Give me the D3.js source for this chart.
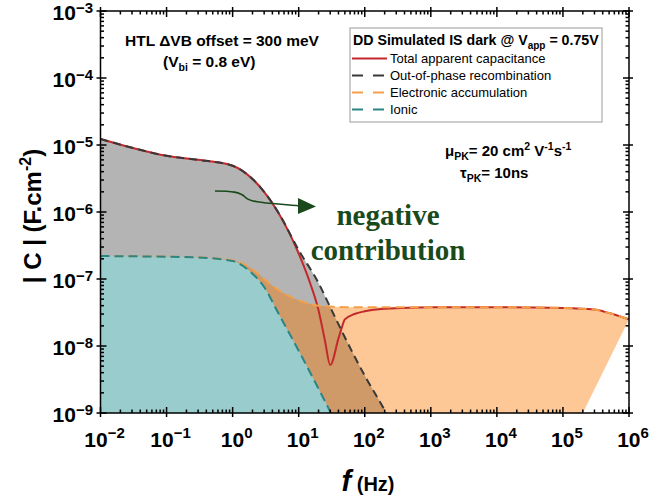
<!DOCTYPE html>
<html>
<head>
<meta charset="utf-8">
<script src="https://cdn.jsdelivr.net/npm/d3@7"></script>
<style>
  body { margin: 0; background: #fff; }
  svg text { font-family: "Liberation Sans", Arial, sans-serif; }
  svg text.serif { font-family: "Liberation Serif", "Times New Roman", serif; }
</style>
</head>
<body>
<div id="chart"></div>
<script>
// |C| vs f, drift-diffusion simulated impedance (dark, Vapp = 0.75 V)

// data
var freqTotal = [0.01, 0.03, 0.1, 0.3, 1, 2, 3, 5, 10, 15, 20, 25, 30, 40, 45, 50, 70, 100, 200, 1e3, 1e4, 1e5, 3e5, 5e5, 1e6];
var capTotal  = [1.23e-5, 9.1e-6, 6.9e-6, 6.0e-6, 4.9e-6, 3.1e-6, 2.0e-6, 9.5e-7, 2.4e-7, 8.5e-8, 3.4e-8, 1.2e-8, 5.2e-9, 1.3e-8, 1.9e-8, 2.5e-8, 3.0e-8, 3.3e-8, 3.6e-8, 3.8e-8, 3.8e-8, 3.7e-8, 3.5e-8, 3.1e-8, 2.5e-8];

var freqRecomb = [0.01, 0.03, 0.1, 0.3, 1, 2, 3, 5, 10, 20, 30, 50, 100, 200, 300];
var capRecomb  = [1.23e-5, 9.1e-6, 6.9e-6, 6.0e-6, 4.9e-6, 3.1e-6, 2.0e-6, 9.6e-7, 2.7e-7, 8.7e-8, 3.8e-8, 1.35e-8, 3.6e-9, 1.1e-9, 5e-10];

var freqElec = [0.01, 0.1, 0.3, 1, 2, 3, 5, 10, 20, 50, 100, 1e3, 1e4, 1e5, 3e5, 5e5, 1e6];
var capElec  = [2.2e-7, 2.15e-7, 2.1e-7, 1.9e-7, 1.4e-7, 1.0e-7, 6.8e-8, 4.8e-8, 4.0e-8, 3.8e-8, 3.8e-8, 3.8e-8, 3.8e-8, 3.7e-8, 3.5e-8, 3.1e-8, 2.5e-8];
var elecFillEnd = 2e5;   // shaded band closes down to 1e-9 here

var freqIonic = [0.01, 0.1, 0.3, 1, 2, 3, 5, 10, 20, 30, 40];
var capIonic  = [2.2e-7, 2.15e-7, 2.1e-7, 1.85e-7, 1.2e-7, 7.6e-8, 3.0e-8, 8.5e-9, 2.3e-9, 1.05e-9, 6e-10];

var xExps = [-2, -1, 0, 1, 2, 3, 4, 5, 6];
var yExps = [-9, -8, -7, -6, -5, -4, -3];

var legendLabels = ["Total apparent capacitance", "Out-of-phase recombination", "Electronic accumulation", "Ionic"];

// layout
var width = 659, height = 500;
var plotL = 100.5, plotR = 629, plotT = 11, plotB = 413;

var svg = d3.select("#chart").append("svg")
    .attr("width", width)
    .attr("height", height);

var x = d3.scaleLog().domain([1e-2, 1e6]).range([plotL, plotR]);
var y = d3.scaleLog().domain([1e-9, 1e-3]).range([plotB, plotT]);

function zip(fs, cs) { return fs.map(function(f, i) { return [f, cs[i]]; }); }
var total = zip(freqTotal, capTotal);
var recomb = zip(freqRecomb, capRecomb);
var elec = zip(freqElec, capElec);
var ionic = zip(freqIonic, capIonic);

var line = d3.line()
    .x(function(d) { return x(d[0]); })
    .y(function(d) { return y(d[1]); })
    .curve(d3.curveMonotoneX);

var area = d3.area()
    .x(function(d) { return x(d[0]); })
    .y0(y(1e-9))
    .y1(function(d) { return y(d[1]); })
    .curve(d3.curveMonotoneX);

var defs = svg.append("defs");
defs.append("clipPath").attr("id", "plotClip")
  .append("rect")
    .attr("x", plotL).attr("y", plotT)
    .attr("width", plotR - plotL).attr("height", plotB - plotT);

// electronic fill polygon: curve, then down to the baseline
var elecPath = line(elec) + "L" + x(elecFillEnd) + "," + y(1e-9) + "L" + x(1e-2) + "," + y(1e-9) + "Z";
defs.append("clipPath").attr("id", "elecClip")
  .append("path").attr("d", elecPath);

var plot = svg.append("g").attr("clip-path", "url(#plotClip)");

plot.append("path").attr("d", elecPath).attr("fill", "#fdc896");
plot.append("path").attr("d", area(recomb)).attr("fill", "#b4b4b4");
plot.append("g").attr("clip-path", "url(#elecClip)")
  .append("path").attr("d", area(recomb)).attr("fill", "#cf9a68");
plot.append("path").attr("d", area(ionic)).attr("fill", "#99cccc");

// curves
plot.append("path").attr("d", line(total))
    .attr("fill", "none").attr("stroke", "#c3282c").attr("stroke-width", 2);
plot.append("path").attr("d", line(elec))
    .attr("fill", "none").attr("stroke", "#f4a048").attr("stroke-width", 2)
    .attr("stroke-dasharray", "9,5");
plot.append("path").attr("d", line(ionic))
    .attr("fill", "none").attr("stroke", "#2a8585").attr("stroke-width", 2)
    .attr("stroke-dasharray", "9,5");
plot.append("path").attr("d", line(recomb))
    .attr("fill", "none").attr("stroke", "#383838").attr("stroke-width", 2)
    .attr("stroke-dasharray", "8,5");

// frame and ticks
var axes = svg.append("g").attr("stroke", "#000").attr("stroke-width", 1.5);
axes.append("rect")
    .attr("x", plotL).attr("y", plotT)
    .attr("width", plotR - plotL).attr("height", plotB - plotT)
    .attr("fill", "none");

function decadeTicks(exps) {
    var out = [];
    for (var i = 0; i < exps.length; i++) {
        out.push({ v: Math.pow(10, exps[i]), major: true });
        if (i < exps.length - 1) {
            for (var m = 2; m <= 9; m++) out.push({ v: m * Math.pow(10, exps[i]), major: false });
        }
    }
    return out;
}

decadeTicks(xExps).forEach(function(t) {
    var px = x(t.v);
    var len = t.major ? 6 : 3.5;
    axes.append("line").attr("x1", px).attr("x2", px)
        .attr("y1", plotB + (t.major ? 4 : 0)).attr("y2", plotB - len);
    axes.append("line").attr("x1", px).attr("x2", px)
        .attr("y1", plotT - (t.major ? 4 : 0)).attr("y2", plotT + len);
});
decadeTicks(yExps).forEach(function(t) {
    var py = y(t.v);
    var len = t.major ? 6 : 3.5;
    axes.append("line").attr("y1", py).attr("y2", py)
        .attr("x1", plotL - (t.major ? 4 : 0)).attr("x2", plotL + len);
    axes.append("line").attr("y1", py).attr("y2", py)
        .attr("x1", plotR + (t.major ? 4 : 0)).attr("x2", plotR - len);
});

// tick labels
xExps.forEach(function(e) {
    var t = svg.append("text")
        .attr("x", x(Math.pow(10, e)) + 4).attr("y", 447)
        .attr("text-anchor", "middle")
        .attr("font-size", 21).attr("font-weight", "bold");
    t.append("tspan").text("10");
    t.append("tspan").attr("dy", -9).attr("font-size", 15).text(String(e).replace("-", "\u2212"));
});
yExps.forEach(function(e) {
    var t = svg.append("text")
        .attr("x", 93).attr("y", y(Math.pow(10, e)) + 9)
        .attr("text-anchor", "end")
        .attr("font-size", 21).attr("font-weight", "bold");
    t.append("tspan").text("10");
    t.append("tspan").attr("dy", -7).attr("font-size", 15).text(String(e).replace("-", "\u2212"));
});

// axis titles
var xt = svg.append("text")
    .attr("x", 368).attr("y", 491)
    .attr("text-anchor", "middle").attr("font-weight", "bold");
xt.append("tspan").attr("font-size", 29).attr("font-style", "italic").text("f");
xt.append("tspan").attr("font-size", 20).text(" (Hz)");

var yt = svg.append("text")
    .attr("transform", "translate(41,216) rotate(-90)")
    .attr("text-anchor", "middle").attr("font-weight", "bold").attr("font-size", 24);
yt.append("tspan").text("| C | (F.cm");
yt.append("tspan").attr("dy", -10).attr("font-size", 16).text("-2");
yt.append("tspan").attr("dy", 10).text(")");

// legend
var lg = svg.append("g");
lg.append("rect").attr("x", 350).attr("y", 28).attr("width", 252).attr("height", 94)
    .attr("fill", "#fff").attr("stroke", "#9a9a9a").attr("stroke-width", 1);
var lt = lg.append("text").attr("x", 353).attr("y", 45)
    .attr("font-size", 14.2).attr("font-weight", "bold");
lt.append("tspan").text("DD Simulated IS dark @ V");
lt.append("tspan").attr("dy", 4).attr("font-size", 10).text("app");
lt.append("tspan").attr("dy", -4).text(" = 0.75V");

var legendColors = ["#c3282c", "#383838", "#f4a048", "#2a8585"];
var legendDash = [null, "11,10", "11,10", "11,10"];
legendLabels.forEach(function(lab, i) {
    var by = 63 + i * 17;
    lg.append("line").attr("x1", 352).attr("x2", 387).attr("y1", by - 4.5).attr("y2", by - 4.5)
        .attr("stroke", legendColors[i]).attr("stroke-width", 2)
        .attr("stroke-dasharray", legendDash[i]);
    lg.append("text").attr("x", 390).attr("y", by)
        .attr("font-size", 13).text(lab);
});

// annotations
var a1 = svg.append("text").attr("x", 125).attr("y", 46)
    .attr("font-size", 15.5).attr("font-weight", "bold");
a1.append("tspan").text("HTL \u0394VB offset = 300 meV");
var a2 = svg.append("text").attr("x", 163).attr("y", 67)
    .attr("font-size", 15.5).attr("font-weight", "bold");
a2.append("tspan").text("(V");
a2.append("tspan").attr("dy", 4).attr("font-size", 10.5).text("bi");
a2.append("tspan").attr("dy", -4).text(" = 0.8 eV)");

var m1 = svg.append("text").attr("x", 445).attr("y", 156)
    .attr("font-size", 15).attr("font-weight", "bold");
m1.append("tspan").text("\u03bc");
m1.append("tspan").attr("dy", 4).attr("font-size", 10.5).text("PK");
m1.append("tspan").attr("dy", -4).text("= 20 cm");
m1.append("tspan").attr("dy", -6).attr("font-size", 10.5).text("2");
m1.append("tspan").attr("dy", 6).text(" V");
m1.append("tspan").attr("dy", -6).attr("font-size", 10.5).text("-1");
m1.append("tspan").attr("dy", 6).text("s");
m1.append("tspan").attr("dy", -6).attr("font-size", 10.5).text("-1");

var m2 = svg.append("text").attr("x", 460).attr("y", 178)
    .attr("font-size", 15).attr("font-weight", "bold");
m2.append("tspan").text("\u03c4");
m2.append("tspan").attr("dy", 4).attr("font-size", 10.5).text("PK");
m2.append("tspan").attr("dy", -4).text("= 10ns");

// negative contribution arrow
var green = "#1a4a1c";
svg.append("path")
    .attr("d", "M215,191 C232,191 240,192 245,197 C250,203 270,203 300,206")
    .attr("fill", "none").attr("stroke", green).attr("stroke-width", 1.6);
svg.append("path")
    .attr("d", "M298,198 L316,206.5 L298,214 Z")
    .attr("fill", green);

svg.append("text").attr("class", "serif").attr("x", 388).attr("y", 225)
    .attr("text-anchor", "middle")
    .attr("font-size", 29).attr("font-weight", "bold").attr("fill", green)
    .text("negative");
svg.append("text").attr("class", "serif").attr("x", 388).attr("y", 260)
    .attr("text-anchor", "middle")
    .attr("font-size", 29).attr("font-weight", "bold").attr("fill", green)
    .text("contribution");
</script>
</body>
</html>
